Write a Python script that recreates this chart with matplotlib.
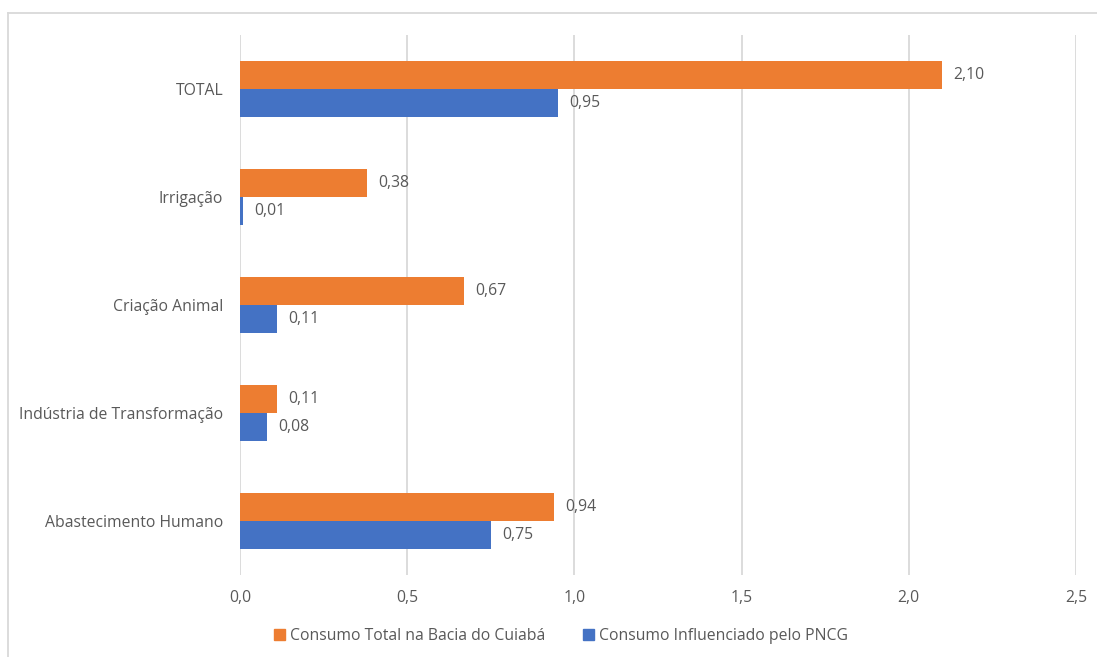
import matplotlib
matplotlib.use("Agg")
import matplotlib.pyplot as plt
import numpy as np
from matplotlib.lines import Line2D
from matplotlib.patches import Patch

categories = ["Abastecimento Humano", "Indústria de Transformação", "Criação Animal", "Irrigação", "TOTAL"]
total_bacia = [0.94, 0.11, 0.67, 0.38, 2.10]
influenciado = [0.75, 0.08, 0.11, 0.01, 0.95]
series_names = ["Consumo Total na Bacia do Cuiabá", "Consumo Influenciado pelo PNCG"]
xticks = [0.0, 0.5, 1.0, 1.5, 2.0, 2.5]

ORANGE = "#ED7D31"
BLUE = "#4472C4"
TXT = "#595959"
FS = 11.3
plt.rcParams['font.family'] = ['Open Sans', 'DejaVu Sans']

fig = plt.figure(figsize=(10.97, 6.57), dpi=100)
ax = fig.add_axes([240/1097, 1-575/657, (1076-240)/1097, (575-35)/657])

y = np.arange(len(categories))
h = 0.26
ax.barh(y + h/2, total_bacia, height=h, color=ORANGE, zorder=3)
ax.barh(y - h/2, influenciado, height=h, color=BLUE, zorder=3)

def fmt(v):
    return f"{v:.2f}".replace(".", ",")

for yi, v in zip(y, total_bacia):
    ax.annotate(fmt(v), (v, yi + h/2), xytext=(8, 0), textcoords="offset points",
                va="center", ha="left", fontsize=FS, color=TXT)
for yi, v in zip(y, influenciado):
    ax.annotate(fmt(v), (v, yi - h/2), xytext=(8, 0), textcoords="offset points",
                va="center", ha="left", fontsize=FS, color=TXT)

ax.set_xlim(0, 2.5)
ax.set_ylim(-0.5, len(categories) - 0.5)
ax.set_xticks(xticks)
ax.set_xticklabels([f"{t:.1f}".replace(".", ",") for t in xticks], fontsize=FS, color=TXT)
ax.set_yticks(y)
ax.set_yticklabels(categories, fontsize=FS, color=TXT)
ax.tick_params(axis='x', length=0, pad=11)
ax.tick_params(axis='y', length=0, pad=12)
ax.grid(axis='x', color="#D9D9D9", linewidth=1.3, zorder=0)
for s in ax.spines.values():
    s.set_visible(False)

handles = [Patch(color=ORANGE), Patch(color=BLUE)]
fig.legend(handles, series_names, loc="center", bbox_to_anchor=(561/1097, 1-636/657),
           ncol=2, frameon=False, fontsize=FS, labelcolor=TXT,
           handlelength=0.7, handleheight=0.7, handletextpad=0.3, columnspacing=2.4)

fig.add_artist(Line2D([8/1097, 1], [1-13/657, 1-13/657], transform=fig.transFigure, color="#D9D9D9", linewidth=1.3))
fig.add_artist(Line2D([8/1097, 8/1097], [0, 1-13/657], transform=fig.transFigure, color="#D9D9D9", linewidth=1.3))

fig.savefig("out.png", dpi=100)
